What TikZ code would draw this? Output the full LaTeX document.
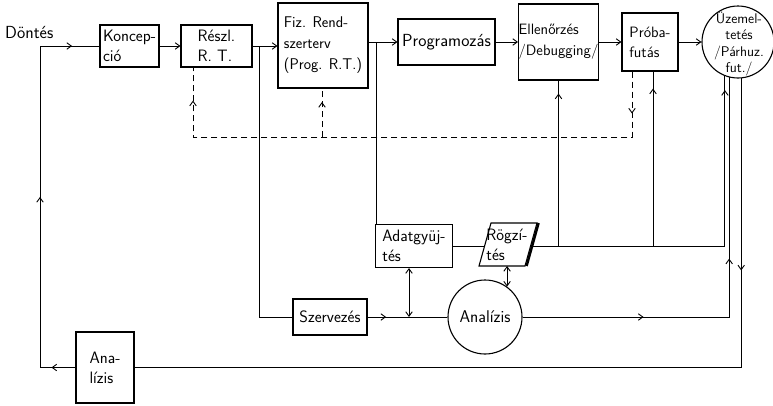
\documentclass[tikz,border=0pt]{standalone}
\usepackage{fontspec}
\usetikzlibrary{arrows.meta,decorations.markings,calc}
\newcommand\dtxt{\sffamily\fontsize{16.5}{20}\selectfont}
\newcommand\ctxt{\sffamily\fontsize{14}{16.5}\selectfont}
\tikzset{
  barb/.tip={Straight Barb[length=4.5pt,width=6.5pt]},
  ln/.style={line width=0.9pt},
  dln/.style={line width=0.9pt,dash pattern=on 6pt off 4pt},
  box/.style={draw,line width=1.1pt,inner sep=1.5pt,align=left,font=\dtxt},
  tipat/.style={postaction={decorate,decoration={markings,mark=at position #1 with {\arrow{barb}}}}}
}
\begin{document}
\begin{tikzpicture}[x=1pt,y=-1pt]
\useasboundingbox (0,0) rectangle (773,405);
% ---- nodes
\node[font=\sffamily\fontsize{17.5}{20}\selectfont,anchor=west,inner sep=0pt] (dont) at (5,32) {Döntés};
\node[box,minimum width=59,minimum height=42] (konc) at (129.5,46) {Koncep-\\ció};
\node[box,minimum width=71,minimum height=42] (reszl) at (216.5,46) {Részl.\\R. T.};
\node[box,minimum width=90,minimum height=85,font=\sffamily\fontsize{15.5}{21}\selectfont] (fiz) at (323,45.5) {Fiz. Rend-\\szerterv\\(Prog. R.T.)};
\node[box,minimum width=97,minimum height=46,font=\sffamily\fontsize{17.5}{20}\selectfont,inner sep=0pt] (prog) at (446.5,42) {Programozás};
\node[box,minimum width=79,minimum height=76,font=\sffamily\fontsize{15}{21}\selectfont,inner sep=0pt] (ell) at (558.5,42) {Ellenőrzés\\/Debugging/};
\node[box,minimum width=56,minimum height=58,font=\sffamily\fontsize{15}{20}\selectfont\addfontfeature{LetterSpace=12}] (proba) at (650,42) {Próba-\\futás};
\node[draw,circle,line width=1.1pt,minimum size=72,inner sep=0pt] (uzem) at (738,42) {};
\node[font=\ctxt,align=center,inner sep=0pt] (uzemT) at (739,44) {Üzemel-\\tetés\\/Párhuz.\\fut./};
\node[box,minimum width=77,minimum height=43] (adat) at (414,246) {Adatgyüj-\\tés};
\coordinate (rTL) at (491,223);
\coordinate (rTR) at (537,223);
\coordinate (rBR) at (525,266);
\coordinate (rBL) at (479,266);
\coordinate (rW) at (484.6,246);
\coordinate (rE) at (533,246);
\coordinate (rS) at (507,266);
\node[font=\dtxt,align=left,inner sep=0pt] (rogz) at (507,244.5) {Rögzí-\\tés};
\node[draw,circle,line width=1.1pt,minimum size=74,inner sep=0pt,font=\sffamily\fontsize{17}{20}\selectfont] (anal) at (485,317) {Analízis};
\node[box,line width=2.2pt,minimum width=74,minimum height=36,inner sep=0pt] (szerv) at (330,317) {Szervezés};
\node[box,minimum width=58,minimum height=71] (analb) at (105,367.5) {Ana-\\lízis};
% ---- Rögzítés shape
\draw[line width=1.1pt] (rTL) -- (rTR) -- (rBR) -- (rBL) -- cycle;
\draw[line width=2.4pt] ($(rTR)+(1.6,0)$) -- ($(rBR)+(1.6,0)$);
% ---- coordinates
\coordinate (cL) at (40,367.5);
\coordinate (cT) at (40,46);
\coordinate (b1) at (259,46);
\coordinate (b2) at (376,42);
\coordinate (dx) at (632,137);
\coordinate (dy) at (193,137);
\coordinate (dz) at (322,137);
\coordinate (e1) at (558.5,246);
\coordinate (p1) at (653,246);
\coordinate (dA) at (409,317);
% ---- connectors
\draw[ln,tipat=24pt,tipat=206pt,tipat=389pt] (analb.west) -- (cL) -- (cT) -- (konc.west);
\draw[ln,-barb] (konc.east) -- (reszl.west);
\draw[ln,-barb] (reszl.east) -- (reszl.east -| fiz.west);
\draw[ln] (b1) |- (szerv.west);
\draw[ln,-barb] (fiz.east |- prog.west) -- (prog.west);
\draw[ln] (b2) -- (b2 |- adat.north);
\draw[ln,-barb] (prog.east) -- (ell.west);
\draw[ln,-barb] (ell.east) -- (proba.west);
\draw[ln,-barb] (proba.east) -- (proba.east -| uzem.west);
% dashed feedback
\draw[dln,tipat=42pt,tipat=-33pt] (proba.south -| dx) -- (dx) -- (dy) -- (dy |- reszl.south);
\draw[dln,tipat=35pt] (dz) -- (dz |- fiz.south);
% data collection / recording
\draw[ln] (adat.east) -- (rW);
\draw[ln,tipat=-14pt] (rE) -| (uzem.-111);
\draw[ln,tipat=-13pt] (e1) -- (ell.south);
\draw[ln,tipat=-17pt] (p1) -- (p1 |- proba.south);
\draw[ln,barb-barb] (anal.54 |- rS) -- (anal.54);
\draw[ln,barb-barb] (dA |- adat.south) -- (dA);
% organisation / analysis
\draw[ln,tipat=18pt] (szerv.east) -- (anal.west);
\draw[ln,tipat=121pt,tipat=265pt] (anal.east) -| (uzem.-104);
\draw[ln,tipat=192pt] (uzem.-85) |- (analb.east);
\end{tikzpicture}
\end{document}
